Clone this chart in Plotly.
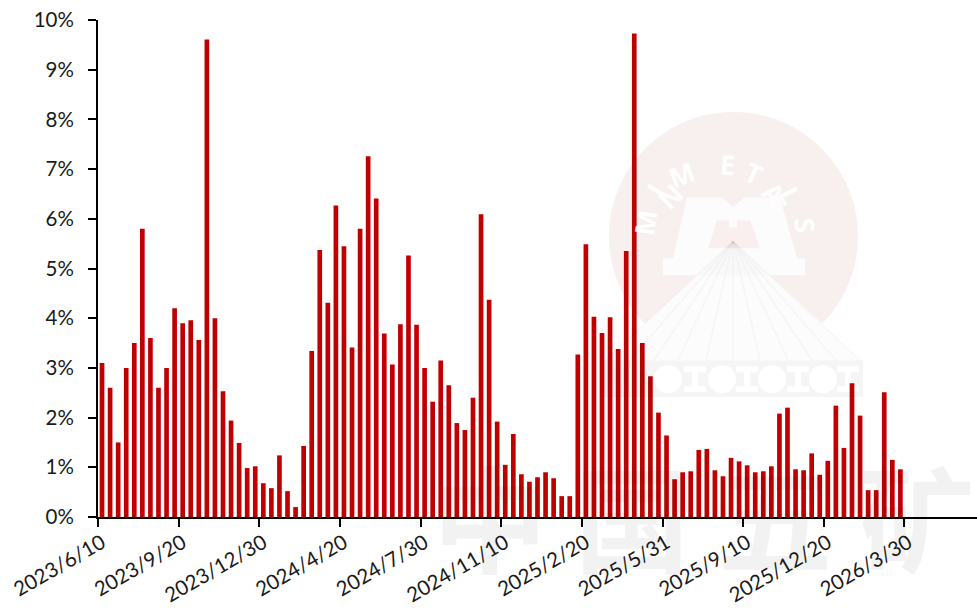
import math
import plotly.graph_objects as go

dates = [
    "2023/6/10","2023/6/20","2023/6/30","2023/7/10","2023/7/20","2023/7/31","2023/8/10","2023/8/20","2023/8/31","2023/9/10",
    "2023/9/20","2023/9/30","2023/10/10","2023/10/20","2023/10/31","2023/11/10","2023/11/20","2023/11/30","2023/12/10","2023/12/20",
    "2023/12/30","2024/1/10","2024/1/20","2024/1/31","2024/2/10","2024/2/29","2024/3/10","2024/3/20","2024/3/31","2024/4/10",
    "2024/4/20","2024/4/30","2024/5/10","2024/5/20","2024/5/31","2024/6/10","2024/6/20","2024/6/30","2024/7/10","2024/7/20",
    "2024/7/30","2024/8/10","2024/8/20","2024/8/31","2024/9/10","2024/9/20","2024/9/30","2024/10/10","2024/10/20","2024/10/31",
    "2024/11/10","2024/11/20","2024/11/30","2024/12/10","2024/12/20","2024/12/31","2025/1/10","2025/1/20","2025/1/31","2025/2/10",
    "2025/2/20","2025/2/28","2025/3/10","2025/3/20","2025/3/31","2025/4/10","2025/4/20","2025/4/30","2025/5/10","2025/5/20",
    "2025/5/31","2025/6/10","2025/6/20","2025/6/30","2025/7/10","2025/7/20","2025/7/31","2025/8/10","2025/8/20","2025/8/31",
    "2025/9/10","2025/9/20","2025/9/30","2025/10/10","2025/10/20","2025/10/31","2025/11/10","2025/11/20","2025/11/30","2025/12/10",
    "2025/12/20","2025/12/31","2026/1/10","2026/1/20","2026/1/31","2026/2/10","2026/2/20","2026/2/28","2026/3/10","2026/3/20",
    "2026/3/30",
]
values = [
    3.10,2.60,1.50,3.00,3.50,5.80,3.60,2.60,3.00,4.20,
    3.90,3.96,3.56,9.61,4.00,2.53,1.94,1.49,0.985,1.02,
    0.68,0.58,1.24,0.52,0.20,1.43,3.34,5.37,4.31,6.27,
    5.45,3.41,5.80,7.26,6.41,3.69,3.07,3.88,5.26,3.87,
    3.00,2.32,3.15,2.65,1.89,1.75,2.40,6.09,4.37,1.92,
    1.05,1.67,0.86,0.71,0.80,0.90,0.78,0.42,0.42,3.27,
    5.49,4.03,3.70,4.02,3.38,5.35,9.73,3.50,2.83,2.10,
    1.64,0.76,0.90,0.92,1.35,1.37,0.94,0.82,1.19,1.12,
    1.04,0.90,0.92,1.02,2.08,2.20,0.96,0.94,1.28,0.85,
    1.13,2.24,1.39,2.69,2.04,0.54,0.54,2.51,1.15,0.96,
    None,
]

W, H = 977, 610
L, R, T, B = 98, 977, 19.5, 517

def px(x): return (x - L) / (R - L)
def py(y): return (B - y) / (B - T)

fig = go.Figure(go.Bar(x=dates, y=values, marker=dict(color="#C00000", line=dict(width=0)), width=0.58))

shapes = []
def subpath(points):
    return "M " + " L ".join(f"{px(a):.5f},{py(b):.5f}" for a, b in points) + " Z"
def path_shape(subpaths, fill):
    shapes.append(dict(type="path", path=" ".join(subpath(p) for p in subpaths), xref="paper", yref="paper",
                       fillcolor=fill, line=dict(width=0), layer="above"))

# watermark: disc with the fan cut out
cx0, cy0, rad = 733.5, 236, 124.5
a0 = math.atan2(323 - cy0, 822 - cx0)
a1 = math.atan2(323 - cy0, 645 - cx0) - 2 * math.pi
disc = [(733, 241)]
for i in range(73):
    t = a0 + (a1 - a0) * i / 72
    disc.append((cx0 + rad * math.cos(t), cy0 + rad * math.sin(t)))
path_shape([disc], "rgba(160,30,30,0.07)")
# watermark: M
path_shape([[(687,197),(722,197),(733,207),(745,197),(780,197),(797,258),(805,258),(805,275),(663,275),(663,258),(673,258)]],
           "rgb(253,252,252)")
path_shape([[(708,248),(717,220),(729,220),(729,227),(737,227),(737,220),(750,220),(760,248)]], "rgb(249,239,239)")
# watermark: rays fan and base with holes
path_shape([[(733,241),(606,360),(860,360)]], "rgba(0,0,0,0.012)")
for xb in [606,630,654,678,706,733,760,788,812,836,860]:
    shapes.append(dict(type="line", xref="paper", yref="paper", x0=px(733), y0=py(241), x1=px(xb), y1=py(360),
                       line=dict(color="rgba(0,0,0,0.022)", width=2), layer="above"))
base = [[(604,360),(604,397),(863,397),(863,360)]]
for cx, r in [(668,14),(722,14),(772,14),(823,14)]:
    base.append([(cx + r * math.cos(2 * math.pi * k / 24), 379 + r * math.sin(2 * math.pi * k / 24)) for k in range(24)])
for cx in [695,747,798,848]:
    base.append([(cx-11,366),(cx+11,366),(cx+11,372),(cx+3,372),(cx+3,386),(cx+11,386),(cx+11,392),(cx-11,392),(cx-11,386),(cx-3,386),(cx-3,372),(cx-11,372)])
path_shape(base, "rgba(0,0,0,0.04)")

annotations = []
letters = [("M",645,223),("I",655,190),("N",670,172),("M",702,150),("E",738,143),("T",772,150),("A",797,170),("L",813,195),("S",827,225)]
for ch, a, b in letters:
    annotations.append(dict(text=f"<b>{ch}</b>", x=px(a), y=py(b), xref="paper", yref="paper", showarrow=False,
                            font=dict(family="Open Sans", size=27, color="rgba(255,255,255,0.95)"),
                            textangle=math.degrees(math.atan2(a-733, 236-b))))
# watermark: big text along the bottom, sized to sit inside the page
for ch, a in [("中",490),("国",632),("五",775),("矿",917)]:
    shapes.append(dict(type="rect", xref="paper", yref="paper", x0=px(a-60), x1=px(a+60), y0=py(607), y1=py(457),
                       fillcolor="rgba(0,0,0,0)", line=dict(width=0), layer="above",
                       label=dict(text=f"<b>{ch}</b>", textposition="middle center",
                                  font=dict(family="Noto Sans CJK SC", size=115, color="rgba(0,0,0,0.05)"))))

fig.update_layout(
    width=W, height=H, autosize=False,
    margin=dict(l=L, r=W-R, t=T, b=H-B),
    paper_bgcolor="white", plot_bgcolor="white",
    showlegend=False, bargap=0.42,
    shapes=shapes, annotations=annotations,
    font=dict(family="Lato", size=20.5, color="#1a1a1a"),
)
fig.update_xaxes(type="category", range=[-0.5, 108.5], tickmode="linear", tick0=0, dtick=10, automargin=False,
                 tickson="boundaries", tickangle=-30, ticks="outside", ticklen=8, tickwidth=2, tickcolor="black",
                 showline=True, linecolor="black", linewidth=2, showgrid=False, zeroline=False,
                 ticklabelstandoff=4, tickfont=dict(family="Lato", size=20.5, color="#1a1a1a"))
fig.update_yaxes(range=[0, 10], tickmode="linear", tick0=0, dtick=1, ticksuffix="%", ticks="outside", ticklen=8,
                 automargin=False, tickwidth=2, tickcolor="black", showline=True, linecolor="black", linewidth=2,
                 showgrid=False, zeroline=False, ticklabelstandoff=10,
                 tickfont=dict(family="Lato", size=20.5, color="#1a1a1a"))

fig.write_html("out.html", post_script="document.body.style.margin='0';", config={"displayModeBar": False})
